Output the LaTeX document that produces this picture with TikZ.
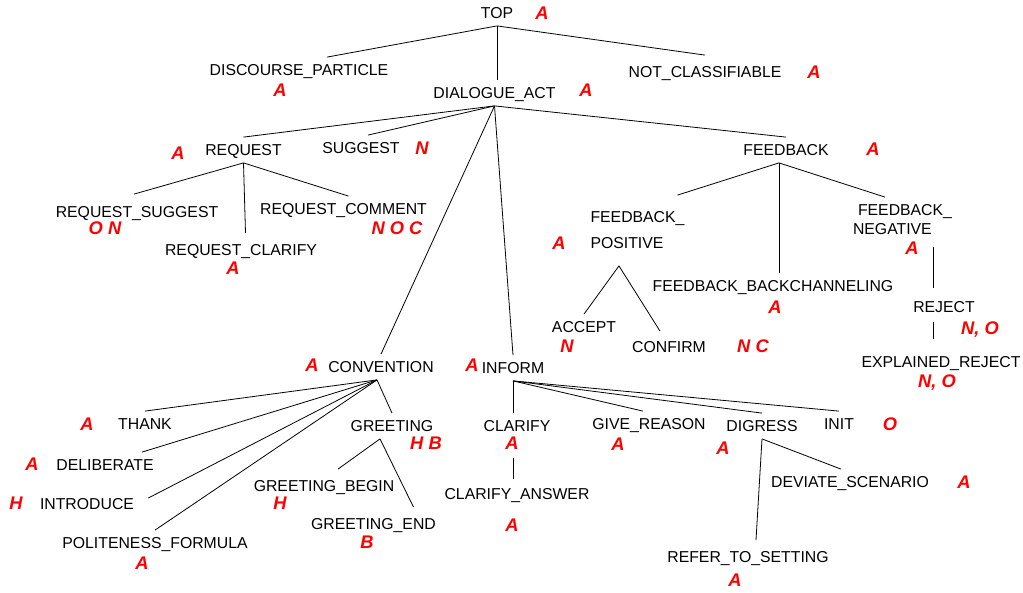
\documentclass[tikz,border=0pt]{standalone}
\usepackage{fontspec}
\setmainfont{Liberation Sans}
\usetikzlibrary{calc}

\begin{document}
\begin{tikzpicture}[x=1pt,y=-1pt,line width=0.8pt,
  cat/.style={font=\fontsize{15.8}{18}\selectfont,text height=11pt,text depth=0pt,
    inner xsep=2pt,inner ysep=7pt},
  tag/.style={font=\fontsize{18.3}{20}\selectfont\bfseries\itshape,text=red,inner sep=1pt}]
\useasboundingbox (0,0) rectangle (1023,592);

% Categories
\node[cat] (top) at (497,13) {TOP};
\node[cat] (dp) at (299,70) {DISCOURSE\_PARTICLE};
\node[cat] (da) at (494.5,93) {DIALOGUE\_ACT};
\node[cat] (nc) at (705,72) {NOT\_CLASSIFIABLE};
\node[cat] (req) at (243.5,150) {REQUEST};
\node[cat] (sug) at (361,148) {SUGGEST};
\node[cat] (fb) at (786,150) {FEEDBACK};
\node[cat] (rs) at (137,212) {REQUEST\_SUGGEST};
\node[cat] (rcm) at (343.5,209) {REQUEST\_COMMENT};
\node[cat] (rc) at (241,250) {REQUEST\_CLARIFY};
\node[cat] (fp1) at (637.5,217) {FEEDBACK\_};
\node[cat,anchor=west] (fp2) at ($(fp1.west)+(0,26)$) {POSITIVE};
\node[cat] (fn1) at (905,210) {FEEDBACK\_};
\node[cat,anchor=west] (fn2) at ($(fn1.west)+(-5,19)$) {NEGATIVE};
\node[cat] (fbc) at (773,286) {FEEDBACK\_BACKCHANNELING};
\node[cat] (acc) at (584,327) {ACCEPT};
\node[cat] (conf) at (669,347) {CONFIRM};
\node[cat] (rej) at (944,307) {REJECT};
\node[cat] (er) at (941,362) {EXPLAINED\_REJECT};
\node[cat] (conv) at (381,367) {CONVENTION};
\node[cat] (inf) at (513,368) {INFORM};
\node[cat] (thank) at (145,424) {THANK};
\node[cat] (delib) at (105,465) {DELIBERATE};
\node[cat] (intro) at (87,504) {INTRODUCE};
\node[cat] (polit) at (155,543) {POLITENESS\_FORMULA};
\node[cat] (greet) at (392,426) {GREETING};
\node[cat] (gb) at (324,486) {GREETING\_BEGIN};
\node[cat] (ge) at (373.5,524) {GREETING\_END};
\node[cat] (clar) at (517,426) {CLARIFY};
\node[cat] (ca) at (517,494) {CLARIFY\_ANSWER};
\node[cat] (give) at (649,424) {GIVE\_REASON};
\node[cat] (dig) at (762,426) {DIGRESS};
\node[cat] (init) at (839,424) {INIT};
\node[cat] (dev) at (850,482) {DEVIATE\_SCENARIO};
\node[cat] (refer) at (748,557) {REFER\_TO\_SETTING};

% Annotator tags
\node[tag] (ttop) at (542,13) {A};
\node[tag] (tdp) at (280,90) {A};
\node[tag] (tda) at (586,90) {A};
\node[tag] (tnc) at (814,72) {A};
\node[tag] (treq) at (178,153) {A};
\node[tag] (tsug) at (422,148) {N};
\node[tag] (tfb) at (873,149) {A};
\node[tag] (trs) at (105,228) {O N};
\node[tag] (trcm) at (397,228) {N O C};
\node[tag] (trc) at (233,268) {A};
\node[tag] (tfp) at (559,243) {A};
\node[tag] (tfn) at (912,248) {A};
\node[tag] (tfbc) at (775,307) {A};
\node[tag] (tacc) at (567,346) {N};
\node[tag] (tconf) at (753,346) {N C};
\node[tag] (trej) at (980,330) {N, O};
\node[tag] (ter) at (937,383) {N, O};
\node[tag] (tconv) at (312,365) {A};
\node[tag] (tinf) at (472,365) {A};
\node[tag] (tthank) at (87,424) {A};
\node[tag] (tdelib) at (32,464) {A};
\node[tag] (tintro) at (16,503) {H};
\node[tag] (tpolit) at (142,563) {A};
\node[tag] (tgreet) at (426,443) {H B};
\node[tag] (tgb) at (280,503) {H};
\node[tag] (tge) at (367,542) {B};
\node[tag] (tclar) at (512,443) {A};
\node[tag] (tca) at (512,525) {A};
\node[tag] (tgive) at (618,444) {A};
\node[tag] (tdig) at (723,448) {A};
\node[tag] (tinit) at (890,424) {O};
\node[tag] (tdev) at (964,482) {A};
\node[tag] (trefer) at (735,580) {A};

% Branch points
\coordinate (fbs) at ($(fb.south)+(-7,0)$);
\coordinate (fps) at ($(fp2.south)+(-8,10)$);
\coordinate (cvs) at ($(conv.south)+(-4,0)$);
\coordinate (grs) at ($(greet.south)+(-12,0)$);

% Edges
\draw (top.south) -- ($(dp.north)+(28,0)$);
\draw (top.south) -- (top.south |- da.north);
\draw (top.south) -- ($(nc.north)+(0,-4)$);

\draw (da.south) -- (req.north);
\draw (da.south) -- ($(sug.north)+(7,0)$);
\draw (da.south) -- (fb.north);
\draw (da.south) -- (conv.north);
\draw (da.south) -- (inf.north);

\draw (req.south) -- ($(rs.north)+(-3,-5)$);
\draw (req.south) -- ($(req.south |- rc.north)+(2,-4)$);
\draw (req.south) -- ($(rcm.north)+(5,0)$);

\draw (fbs) -- ($(fp1.north)+(40,-9)$);
\draw (fbs) -- (fbs |- fbc.north);
\draw (fbs) -- ($(fn1.north)+(-20,0)$);
\draw (fps) -- (acc.north);
\draw (fps) -- ($(conf.north)+(-9,-3)$);
\draw ($(fn2.south -| rej.north)+(-11,5)$) -- ($(rej.north)+(-11,-6)$);
\draw ($(rej.south)+(-11,2)$) -- ($(rej.south |- er.north)+(-11,-10)$);

\draw (cvs) -- (thank.north);
\draw (cvs) -- ($(delib.north)+(37,0)$);
\draw (cvs) -- ($(intro.east)+(12,-6)$);
\draw (cvs) -- (polit.north);
\draw (cvs) -- (greet.north);
\draw (grs) -- ($(gb.north)+(14,-4)$);
\draw (grs) -- ($(ge.north)+(40,-4)$);

\draw (inf.south) -- (inf.south |- clar.north);
\draw (inf.south) -- ($(give.north)+(-6,0)$);
\draw (inf.south) -- (dig.north);
\draw (inf.south) -- (init.north);
\draw ($(clar.south)+(-4,19)$) -- ($(ca.north)+(-4,-2)$);
\draw (dig.south) -- ($(refer.north)+(8,-4)$);
\draw (dig.south) -- ($(dev.north)+(-9,0)$);
\end{tikzpicture}
\end{document}
